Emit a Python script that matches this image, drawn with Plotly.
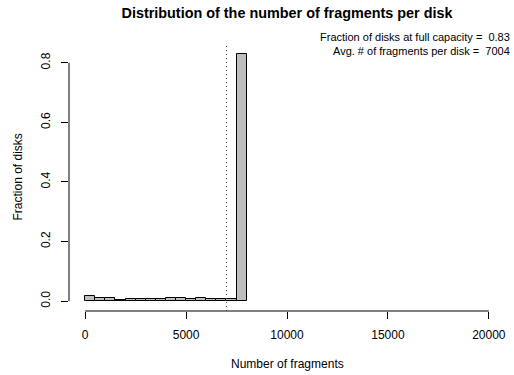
import plotly.graph_objects as go

# Data
bin_starts = [0, 500, 1000, 1500, 2000, 2500, 3000, 3500, 4000, 4500,
              5000, 5500, 6000, 6500, 7000, 7500]
bin_width = 500
fractions = [0.016, 0.010, 0.010, 0.005, 0.007, 0.007, 0.007, 0.007, 0.009, 0.009,
             0.008, 0.009, 0.007, 0.008, 0.006, 0.830]
avg_fragments = 7004
full_capacity = 0.83
x_ticks = [0, 5000, 10000, 15000, 20000]
y_ticks = [0.0, 0.2, 0.4, 0.6, 0.8]
y_tick_text = ["0.0", "0.2", "0.4", "0.6", "0.8"]

W, H = 514, 375
L, R, T, B = 69, 9, 44, 64
pw, ph = W - L - R, H - T - B
FONT = "Liberation Sans, Arial, sans-serif"

centers = [s + bin_width / 2 for s in bin_starts]

fig = go.Figure()
fig.add_trace(go.Bar(
    x=centers, y=fractions, width=[bin_width] * len(centers),
    marker=dict(color="#BEBEBE", line=dict(color="black", width=1)),
    showlegend=False, hoverinfo="skip"))

xr = [-0.04 * 20000, 20000 * 1.04]
ymax = max(fractions)
yr = [-0.04 * ymax, ymax * 1.04]

fig.update_layout(
    width=W, height=H, autosize=False,
    margin=dict(l=L, r=R, t=T, b=B, pad=0),
    paper_bgcolor="white", plot_bgcolor="white",
    font=dict(family=FONT, size=12, color="black"),
    bargap=0,
    title=dict(text="<b>Distribution of the number of fragments per disk</b>",
               x=(L + pw / 2) / W, xanchor="center", y=1 - 13 / H, yanchor="middle",
               font=dict(size=14.4, family=FONT)),
    xaxis=dict(range=xr, tickvals=x_ticks, ticktext=[str(v) for v in x_ticks],
               showgrid=False, zeroline=False, showline=False,
               ticks="outside", ticklen=7, tickwidth=1, tickcolor="black",
               ticklabelstandoff=6, tickfont=dict(size=12)),
    yaxis=dict(range=yr, tickvals=y_ticks, ticktext=y_tick_text, tickangle=-90,
               showgrid=False, zeroline=False, showline=False,
               ticks="outside", ticklen=7, tickwidth=1, tickcolor="black",
               ticklabelstandoff=6, tickfont=dict(size=12)),
)

# R-style axis lines spanning tick range
fig.add_shape(type="line", xref="x", yref="paper", x0=x_ticks[0], x1=x_ticks[-1], y0=0, y1=0,
              line=dict(color="black", width=1))
fig.add_shape(type="line", xref="paper", yref="y", x0=0, x1=0, y0=y_ticks[0], y1=y_ticks[-1],
              line=dict(color="black", width=1))
# mean line
fig.add_shape(type="line", xref="x", yref="paper", x0=avg_fragments, x1=avg_fragments, y0=0, y1=1,
              line=dict(color="#444444", width=1, dash="1px,3px"))

def px_x(px):
    return (px - L) / pw

def px_y(py):
    return (H - B - py) / ph

fig.add_annotation(text="Number of fragments", xref="paper", yref="paper",
                   x=0.5, y=px_y(364), showarrow=False, xanchor="center", yanchor="middle",
                   font=dict(size=12))
fig.add_annotation(text="Fraction of disks", xref="paper", yref="paper",
                   x=px_x(17), y=0.5, showarrow=False, textangle=-90,
                   xanchor="center", yanchor="middle", font=dict(size=12))
fig.add_annotation(text=f"Fraction of disks at full capacity =  {full_capacity:.2f}",
                   xref="paper", yref="paper", x=px_x(512), y=px_y(37), showarrow=False,
                   xanchor="right", yanchor="middle", font=dict(size=11))
fig.add_annotation(text=f"Avg. # of fragments per disk =  {avg_fragments}",
                   xref="paper", yref="paper", x=px_x(512), y=px_y(51), showarrow=False,
                   xanchor="right", yanchor="middle", font=dict(size=11))

fig.write_html("out.html", config={"displayModeBar": False},
               post_script="document.body.style.margin='0';document.body.style.overflow='hidden';")
